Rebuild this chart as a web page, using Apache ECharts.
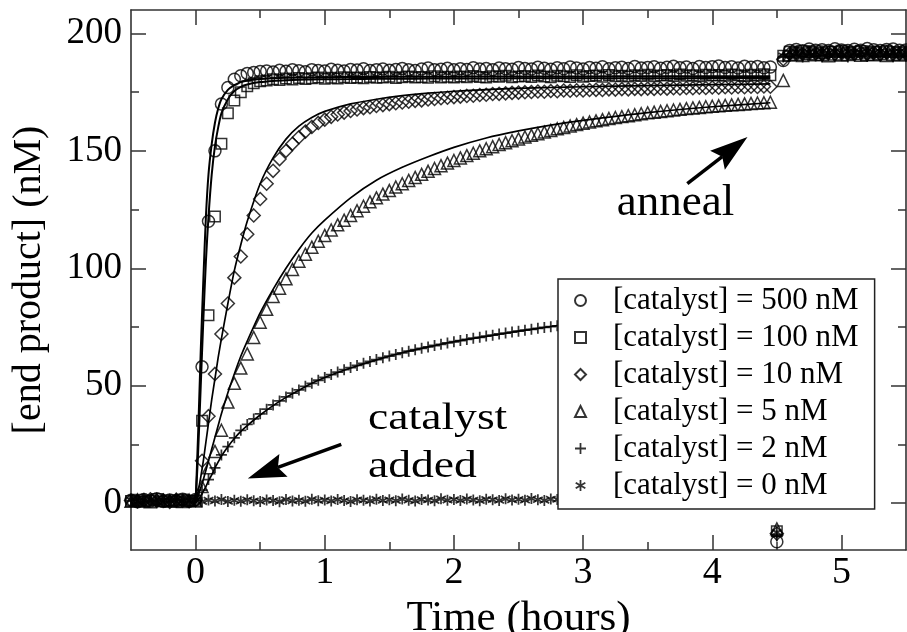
<!DOCTYPE html>
<html><head><meta charset="utf-8">
<script src="https://cdn.jsdelivr.net/npm/echarts@6/dist/echarts.min.js"></script>
<style>html,body{margin:0;padding:0;background:#fff}#c{width:907px;height:632px}</style>
</head><body><div id="c"></div>
<script>
// ---- sample times (hours) shared by all measured series ----
const hours = [-0.5,-0.45,-0.4,-0.35,-0.3,-0.25,-0.2,-0.15,-0.1,-0.05,
0,0.05,0.1,0.15,0.2,0.25,0.3,0.35,0.4,0.45,
0.5,0.55,0.6,0.65,0.7,0.75,0.8,0.85,0.9,0.95,
1,1.05,1.1,1.15,1.2,1.25,1.3,1.35,1.4,1.45,
1.5,1.55,1.6,1.65,1.7,1.75,1.8,1.85,1.9,1.95,
2,2.05,2.1,2.15,2.2,2.25,2.3,2.35,2.4,2.45,
2.5,2.55,2.6,2.65,2.7,2.75,2.8,2.85,2.9,2.95,
3,3.05,3.1,3.15,3.2,3.25,3.3,3.35,3.4,3.45,
3.5,3.55,3.6,3.65,3.7,3.75,3.8,3.85,3.9,3.95,
4,4.05,4.1,4.15,4.2,4.25,4.3,4.35,4.4,4.45,
4.5,
4.55,4.6,4.65,4.7,4.75,4.8,4.85,4.9,4.95,5,
5.05,5.1,5.15,5.2,5.25,5.3,5.35,5.4,5.45,5.5];

// ---- measured [end product] (nM) ----
const cat500 = [1.2,0.6,1.5,0.9,1.8,0.7,1.3,1.0,1.6,0.8,
1.5,58,120,150,170,177,180.5,182,183,183.4,
183.8,184.0,183.6,184.3,183.9,184.5,184.1,183.7,184.6,184.2,
184.0,184.8,184.3,184.0,184.7,184.4,185.0,184.2,184.6,184.9,
184.3,184.7,185.1,184.5,184.2,184.9,185.3,184.6,184.8,185.2,
184.5,185.0,184.7,185.4,184.9,185.1,184.6,185.3,185.0,184.8,
185.5,185.1,184.9,185.6,185.2,184.8,185.4,185.0,185.7,185.3,
184.9,185.5,185.2,185.8,185.0,185.4,185.6,185.1,185.9,185.3,
185.5,185.8,185.2,185.6,186.0,185.4,185.7,185.1,185.9,185.5,
185.8,186.1,185.5,185.8,185.3,186.0,185.6,185.9,185.4,185.7,
-16.5,
188.5,192.8,193.2,192.6,193.4,192.9,193.1,192.7,193.5,193.0,
192.8,193.3,192.9,193.6,193.1,192.7,193.2,193.4,192.9,193.0];

const cat100 = [0.9,1.4,0.5,1.1,1.7,0.8,1.2,0.6,1.5,1.0,
1.0,35,80,122,153,166,171.5,175,177.5,178.8,
179.6,180.0,180.5,180.2,180.8,180.4,181.0,180.6,180.9,181.2,
180.7,181.1,180.8,181.4,181.0,181.3,180.9,181.5,181.1,181.2,
181.6,181.0,181.4,181.7,181.2,181.5,181.1,181.8,181.3,181.6,
181.2,181.7,181.4,181.9,181.5,181.2,181.8,181.6,182.0,181.4,
181.7,181.9,181.5,182.1,181.7,181.4,182.0,181.8,181.5,182.2,
181.6,181.9,182.1,181.6,182.3,181.8,182.0,181.7,182.2,181.9,
182.4,181.8,182.1,182.3,181.9,182.5,182.0,182.2,181.8,182.4,
182.1,182.3,182.0,182.5,182.2,181.9,182.4,182.1,182.6,182.2,
-12.0,
190.5,192.2,191.8,192.5,192.0,192.4,191.7,192.3,192.1,192.6,
191.9,192.2,192.5,191.8,192.3,192.0,192.6,192.1,191.9,192.4];

const cat10 = [1.1,0.7,1.3,1.6,0.9,1.2,0.5,1.4,1.0,0.8,
1.2,18,37,55,72,85,96,105,114.5,122.5,
129.5,136,141.5,146.5,150,153,155.8,158.2,160.2,161.9,
163.3,164.5,165.5,166.3,167.0,167.6,168.2,168.6,169.1,169.5,
169.9,170.3,170.6,170.9,171.3,171.5,171.9,172.1,172.4,172.6,
172.9,173.1,173.4,173.5,173.8,173.9,174.2,174.3,174.5,174.7,
174.8,175.0,175.1,175.3,175.2,175.5,175.4,175.7,175.6,175.8,
175.7,175.9,176.0,175.9,176.2,176.1,176.3,176.2,176.4,176.3,
176.5,176.4,176.6,176.5,176.7,176.6,176.8,176.7,176.9,176.8,
177.0,176.9,177.1,177.0,177.2,177.1,177.3,177.2,177.4,177.3,
-13.0,
189.0,191.5,191.9,191.3,192.0,191.6,191.2,191.8,191.4,192.1,
191.7,191.3,191.9,191.5,191.8,191.2,192.0,191.6,191.4,191.7];

const cat5 = [0.8,1.3,1.0,0.6,1.5,1.1,0.9,1.4,0.7,1.2,
0.9,7,15,22,31,43,51,57.5,63.5,70.5,
77,82.5,88,91.5,95.5,99.5,103,106,109,111.5,
114,116.3,118.5,120.5,122.5,124.5,126.4,128.3,130,131.6,
133.1,134.6,136,137.4,138.7,140,141.3,142.5,143.7,144.8,
145.9,147,148,149,150,150.9,151.8,152.7,153.5,154.3,
155.1,155.9,156.6,157.3,158,158.7,159.4,160,160.6,161.2,
161.8,162.3,162.8,163.3,163.8,164.2,164.6,165,165.4,165.8,
166.2,166.5,166.8,167.1,167.4,167.7,168,168.3,168.5,168.8,
169,169.2,169.4,169.6,169.8,170,170.2,170.4,170.5,170.7,
-11.0,
180.0,190.8,191.2,190.6,191.4,190.9,191.1,190.5,191.3,190.8,
191.0,191.5,190.7,191.2,190.9,191.4,190.6,191.1,190.8,191.3];

const cat2 = [1.0,1.4,0.6,1.2,0.9,1.6,0.8,1.1,1.3,0.7,
1.0,5.5,10,15,20.5,24,27.8,31,33.5,35.8,
38,40,41.8,43.5,45.2,46.8,48.2,49.7,51,52.3,
53.5,54.7,55.8,56.8,57.7,58.6,59.5,60.3,61.1,61.9,
62.6,63.3,64,64.7,65.3,65.9,66.5,67.1,67.6,68.2,
68.7,69.2,69.7,70.2,70.6,71.1,71.5,72,72.4,72.8,
73.2,73.6,74,74.4,74.8,75.1,75.5,75.8,76.2,76.5,
76.9,77.2,77.5,77.8,78.1,78.4,78.7,79.0,79.3,79.6,
79.9,80.1,80.4,80.7,80.9,81.2,81.4,81.7,81.9,82.2,
82.4,82.6,82.9,83.1,83.3,83.5,83.7,84.0,84.2,84.4,
-14.0,
190.0,190.2,190.7,190.0,190.9,190.4,190.1,190.8,190.3,190.6,
190.0,190.9,190.5,190.2,190.7,190.4,190.9,190.1,190.6,190.3];

const cat0 = [1.3,0.8,1.1,1.5,0.6,1.2,1.0,1.4,0.9,1.1,
1.0,0.6,1.3,0.9,1.5,0.7,1.2,0.8,1.4,1.0,
0.7,1.3,1.1,0.6,1.5,0.9,1.2,0.8,1.6,1.0,
1.3,0.9,1.5,1.1,0.7,1.4,1.2,0.9,1.6,1.1,
1.4,1.0,1.7,1.2,0.9,1.5,1.3,1.0,1.8,1.2,
1.5,1.1,1.7,1.3,1.0,1.6,1.4,1.1,1.8,1.3,
1.6,1.2,1.9,1.4,1.1,1.7,1.5,1.2,1.9,1.4,
1.7,1.3,2.0,1.5,1.2,1.8,1.6,1.3,2.0,1.5,
1.8,1.4,2.1,1.6,1.3,1.9,1.7,1.4,2.1,1.6,
1.9,1.5,2.2,1.7,1.4,2.0,1.8,1.5,2.2,1.7,
-12.5,
190.5,191.8,192.3,191.5,192.1,191.9,192.5,191.6,192.2,191.8,
192.4,191.7,192.0,192.6,191.9,192.3,191.6,192.1,192.4,191.8];

// ---- model fits ----
const fitHours = [0,0.02,0.04,0.06,0.08,0.1,0.125,0.15,0.175,0.2,0.25,0.3,0.35,0.4,0.5,0.6,0.7,0.8,0.9,1.0,1.2,1.4,1.6,1.8,2.0,2.25,2.5,2.75,3.0,3.5,4.0,4.45];
const fit500 = [0,30,65,95,122,140,153,162,168,172,176,178,179.3,180,180.6,180.9,181.1,181.2,181.3,181.4,181.5,181.5,181.6,181.6,181.6,181.7,181.7,181.7,181.7,181.8,181.8,181.8];
const fit100 = [0,22,50,78,103,122,140,152,160,166,172,175.5,177.3,178.3,179.3,179.8,180.1,180.3,180.4,180.5,180.6,180.7,180.7,180.8,180.8,180.8,180.9,180.9,180.9,180.9,181,181];
const fit10 = [0,5,11,18,26,34,44,53,62,70,85,99,110,120,136,147,155,160.5,164.2,166.8,170,172,173.5,174.6,175.4,176.1,176.6,177,177.3,177.8,178.2,178.5];
const fit5 = [0,3,6.5,10,14,18,23,28,33,38,47,55,62.5,69,81,91,100,108,115,120.5,130,137.5,143,147.5,151.5,155.5,158.5,161,163,166.3,168.8,170.5];
const fit2 = [0,1.5,3,5,7,9.5,12,15,17.5,20,24,27.5,30.5,33,37.5,41.5,45,48,51,53.5,57.5,61,64,66.5,68.7,71,73.2,75.2,77,80,82.5,84.5];

const seriesNames = ['[catalyst] = 500 nM','[catalyst] = 100 nM','[catalyst] = 10 nM','[catalyst] = 5 nM','[catalyst] = 2 nM','[catalyst] = 0 nM'];
const xMajorTicks = [0,1,2,3,4,5];
const xMinorTicks = [0.5,1.5,2.5,3.5,4.5];
const yMajorTicks = [0,50,100,150,200];
const yMinorTicks = [25,75,125,175];

// ---- presentation ----
const FONT = '"Liberation Serif", "Times New Roman", serif';
const INK = '#000';
const FRAME = '#333';
const PLUS = 'path://M4.2,0h1.6v10h-1.6z M0,4.2h10v1.6h-10z';
const STAR = 'path://M4.2,0h1.6v10h-1.6z M1.1,1.8L9.8,6.8L9.0,8.2L0.2,3.2z M9.8,3.2L1.1,8.2L0.2,6.8L9.0,1.8z';
const markerDefs = [
  {symbol:'circle', size:12, hollow:true},
  {symbol:'rect', size:10.5, hollow:true},
  {symbol:'diamond', size:13, hollow:true},
  {symbol:'triangle', size:12, hollow:true},
  {symbol:PLUS, size:11, hollow:false},
  {symbol:STAR, size:11, hollow:false}
];
const measured = [cat500, cat100, cat10, cat5, cat2, cat0];
const fits = [fit500, fit100, fit10, fit5, fit2];
const fitWidths = [2, 2, 1.7, 1.7, 1.7];

const pairs = (xs, ys) => xs.map((x, i) => [x, ys[i]]);

function xAxisDef(position, ticks, len, withLine, withLabel, name) {
  const ax = {
    type:'value', position, min:-0.5, max:5.5,
    axisLine:{show:withLine, onZero:false, lineStyle:{color:FRAME, width:1.6}},
    axisTick:{show:true, inside:true, length:len, customValues:ticks, lineStyle:{color:FRAME, width:1.5}},
    axisLabel:{show:withLabel, customValues:ticks, margin:4, fontFamily:FONT, fontSize:38, color:INK},
    splitLine:{show:false}
  };
  if (name) {
    ax.name = name; ax.nameLocation = 'middle'; ax.nameGap = 40;
    ax.nameTextStyle = {fontFamily:FONT, fontSize:43, color:INK};
  }
  return ax;
}
function yAxisDef(position, ticks, len, withLine, withLabel, name) {
  const ax = {
    type:'value', position, min:-20, max:210,
    axisLine:{show:withLine, onZero:false, lineStyle:{color:FRAME, width:1.6}},
    axisTick:{show:true, inside:true, length:len, customValues:ticks, lineStyle:{color:FRAME, width:1.5}},
    axisLabel:{show:withLabel, customValues:ticks, margin:9, fontFamily:FONT, fontSize:37, color:INK},
    splitLine:{show:false}
  };
  if (name) {
    ax.name = name; ax.nameLocation = 'middle'; ax.nameGap = 82;
    ax.nameTextStyle = {fontFamily:FONT, fontSize:40, color:INK};
  }
  return ax;
}

const series = [];
measured.forEach((vals, i) => {
  const m = markerDefs[i];
  series.push({
    type:'scatter', name:seriesNames[i], data:pairs(hours, vals),
    symbol:m.symbol, symbolSize:m.size, symbolKeepAspect:true, clip:false, silent:true, z:3,
    itemStyle: m.hollow ? {color:'rgba(0,0,0,0)', borderColor:INK, borderWidth:1.5}
                        : {color:INK, borderWidth:0}
  });
});
fits.forEach((vals, i) => {
  series.push({
    type:'line', name:'fit' + i, data:pairs(fitHours, vals), smooth:0.25,
    showSymbol:false, symbol:'none', silent:true, z:4,
    lineStyle:{color:INK, width:fitWidths[i]}
  });
});

const chart = echarts.init(document.getElementById('c'), null, {renderer:'canvas'});
chart.setOption({
  animation:false,
  backgroundColor:'#fff',
  grid:{left:131, top:10, width:775, height:540, outerBoundsMode:'none'},
  xAxis:[
    xAxisDef('bottom', xMajorTicks, 15, true, true, 'Time (hours)'),
    xAxisDef('bottom', xMinorTicks, 8, false, false),
    xAxisDef('top', xMajorTicks, 15, true, false),
    xAxisDef('top', xMinorTicks, 8, false, false)
  ],
  yAxis:[
    yAxisDef('left', yMajorTicks, 15, true, true, '[end product] (nM)'),
    yAxisDef('left', yMinorTicks, 8, false, false),
    yAxisDef('right', yMajorTicks, 15, true, false),
    yAxisDef('right', yMinorTicks, 8, false, false)
  ],
  legend:{
    orient:'vertical', left:558, top:279, selectedMode:false,
    padding:[3, 16, 5, 16], itemGap:0, itemWidth:11, itemHeight:11,
    backgroundColor:'#fff', borderColor:'#222', borderWidth:1.5,
    textStyle:{fontFamily:FONT, fontSize:31, color:INK, lineHeight:37, padding:[0,0,0,22]},
    data:seriesNames, z:10
  },
  series
});

// ---- annotations placed in data coordinates ----
const notes = [
  {text:'catalyst', at:[1.335, 30.2], size:38, stretch:1.2},
  {text:'added', at:[1.335, 9.8], size:38, stretch:1.2},
  {text:'anneal', at:[3.261, 121.3], size:45, stretch:1}
];
const arrows = [
  {from:[1.128, 25.0], to:[0.404, 10.5]},
  {from:[3.807, 136.0], to:[4.273, 155.9]}
];
const toPx = p => chart.convertToPixel({xAxisIndex:0, yAxisIndex:0}, p);
const graphic = [];
notes.forEach(n => {
  const p = toPx(n.at);
  graphic.push({type:'text', x:p[0], y:p[1] - 0.34 * n.size, scaleX:n.stretch, z:20,
    style:{text:n.text, font:n.size + 'px ' + FONT, fill:INK, align:'left', verticalAlign:'middle'}});
});
arrows.forEach(a => {
  const q = toPx(a.from), p = toPx(a.to);
  const dx = p[0] - q[0], dy = p[1] - q[1], d = Math.hypot(dx, dy);
  const ux = dx / d, uy = dy / d, nx = -uy, ny = ux;
  const L = 38, W = 12, N = 6;
  graphic.push({type:'line', z:20, shape:{x1:q[0], y1:q[1], x2:p[0] - (L - N) * ux, y2:p[1] - (L - N) * uy},
    style:{stroke:INK, lineWidth:3.5}});
  graphic.push({type:'polygon', z:20, shape:{points:[
    [p[0], p[1]],
    [p[0] - L * ux + W * nx, p[1] - L * uy + W * ny],
    [p[0] - (L - N) * ux, p[1] - (L - N) * uy],
    [p[0] - L * ux - W * nx, p[1] - L * uy - W * ny]
  ]}, style:{fill:INK}});
});
chart.setOption({graphic});
</script>
</body></html>
